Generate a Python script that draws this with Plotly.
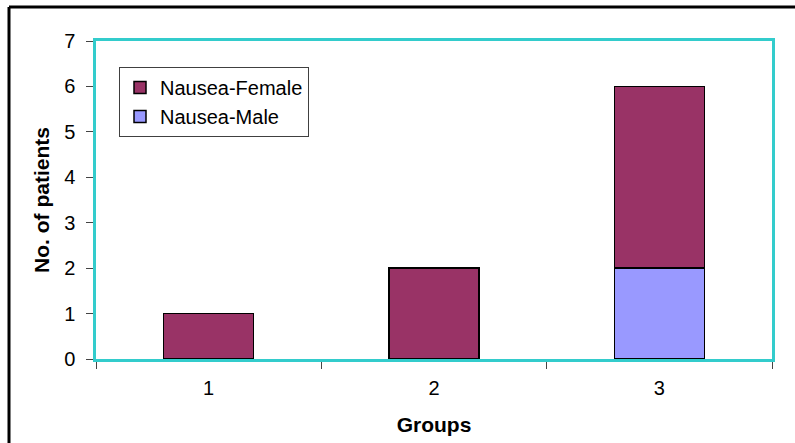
import plotly.graph_objects as go

groups = ["1", "2", "3"]
nausea_female = [1, 2, 4]
nausea_male = [0, 0, 2]
y_ticks = [0, 1, 2, 3, 4, 5, 6, 7]

W, H = 795, 443
L, R, T, B = 96, 23, 41, 84
pw, ph = W - L - R, H - T - B

fig = go.Figure()
fig.add_trace(go.Bar(
    x=groups, y=nausea_male, name="Nausea-Male",
    marker=dict(color="#9999FF", line=dict(color="black", width=1.5)),
    width=0.4,
))
fig.add_trace(go.Bar(
    x=groups, y=nausea_female, name="Nausea-Female",
    marker=dict(color="#993366", line=dict(color="black", width=1.5)),
    width=0.4,
))

font_family = "Liberation Sans, Arial, sans-serif"
teal = "#33CCCC"

# outer black frame (left and top edges)
fx0 = (9 - L) / pw
fy1 = 1 + (T - 7) / ph
fig.add_shape(type="line", xref="paper", yref="paper",
              x0=fx0, x1=fx0, y0=-0.5, y1=fy1,
              line=dict(color="black", width=3), layer="below")
fig.add_shape(type="line", xref="paper", yref="paper",
              x0=fx0, x1=1.5, y0=fy1, y1=fy1,
              line=dict(color="black", width=3), layer="below")

fig.update_layout(
    width=W, height=H,
    margin=dict(l=L, r=R, t=T, b=B, autoexpand=False),
    barmode="stack",
    plot_bgcolor="white", paper_bgcolor="white",
    font=dict(family=font_family, color="black", size=20),
    showlegend=True,
    legend=dict(
        x=(119 - L) / pw, y=1 - (67 - T) / ph, xanchor="left", yanchor="top",
        traceorder="reversed", bordercolor="#404040", borderwidth=1,
        bgcolor="white", font=dict(size=20), itemwidth=30,
    ),
    xaxis=dict(
        type="category", showline=True, linecolor=teal, linewidth=2.5, mirror=True,
        ticks="outside", tickson="boundaries", ticklen=7, tickcolor="#444444",
        tickfont=dict(size=20), ticklabelstandoff=9, automargin=False,
        title=dict(text="<b>Groups</b>", font=dict(size=21), standoff=20),
    ),
    yaxis=dict(
        range=[0, 7], tickvals=y_ticks, showline=True, linecolor=teal, linewidth=2.5,
        mirror=True, ticks="outside", ticklen=7, tickcolor="#444444", automargin=False,
        showgrid=False, zeroline=False, tickfont=dict(size=20), ticklabelstandoff=7,
        title=dict(text="<b>No. of patients</b>", font=dict(size=21), standoff=9),
    ),
)

fig.write_html("out.html")
